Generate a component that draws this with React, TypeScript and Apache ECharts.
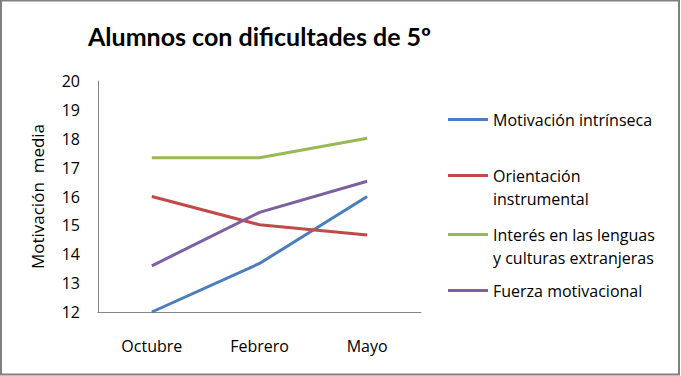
import React, { useEffect, useRef } from "react";
import * as echarts from "echarts";

const title = "Alumnos con dificultades de 5º";
const categories = ["Octubre", "Febrero", "Mayo"];
const yAxisName = "Motivación  media";
const seriesNames = [
  "Motivación intrínseca",
  "Orientación\ninstrumental",
  "Interés en las lenguas\ny culturas extranjeras",
  "Fuerza motivacional",
];
const motivacionIntrinseca = [12.0, 13.68, 16.0];
const orientacionInstrumental = [16.0, 15.02, 14.67];
const interesLenguas = [17.34, 17.34, 18.02];
const fuerzaMotivacional = [13.6, 15.45, 16.53];
const colors = ["#4a7ebb", "#be4b48", "#98b954", "#7d60a0"];
const legendCenters = [121, 177, 236, 292];

const FONT = "'Open Sans', Lato, sans-serif";
const TITLE_FONT = "Lato, 'Open Sans', sans-serif";
const LH = 23;

export default function App() {
  const ref = useRef<HTMLDivElement>(null);
  useEffect(() => {
    document.body.style.margin = "0";
    const chart = echarts.init(ref.current!, undefined, { renderer: "svg" });
    const values = [motivacionIntrinseca, orientacionInstrumental, interesLenguas, fuerzaMotivacional];
    const legends = seriesNames.map((name, i) => {
      const twoLines = name.includes("\n");
      return {
        show: true,
        left: 448,
        top: legendCenters[i] - LH / 2 - (twoLines ? LH : 0) - 1.5,
        orient: "vertical",
        padding: 0,
        icon: "rect",
        itemWidth: 40,
        itemHeight: 3,
        data: [name],
        formatter: (n: string) => (n.includes("\n") ? " \n" + n : n),
        textStyle: {
          fontFamily: FONT,
          fontSize: 16,
          color: "#000",
          lineHeight: LH,
        },
      };
    });
    chart.setOption({
      animation: false,
      title: {
        text: title,
        left: 88,
        top: 23,
        padding: 0,
        textStyle: { fontFamily: TITLE_FONT, fontSize: 25, fontWeight: "bold", color: "#000" },
      },
      graphic: [
        {
          type: "rect",
          shape: { x: 1, y: 0.5, width: 678, height: 374 },
          style: { fill: "none", stroke: "#808080", lineWidth: 2 },
        },
      ],
      legend: legends,
      grid: { left: 98, top: 81, width: 323, height: 231, containLabel: false },
      xAxis: {
        type: "category",
        data: categories,
        boundaryGap: true,
        axisLine: { lineStyle: { color: "#868686", width: 1 } },
        axisTick: { show: false },
        axisLabel: { fontFamily: FONT, fontSize: 16, color: "#000", margin: 26 },
      },
      yAxis: {
        type: "value",
        min: 12,
        max: 20,
        interval: 1,
        name: yAxisName,
        nameLocation: "middle",
        nameGap: 52,
        nameTextStyle: { fontFamily: FONT, fontSize: 17, color: "#000" },
        axisLine: { show: true, lineStyle: { color: "#868686", width: 1 } },
        axisTick: { show: false },
        splitLine: { show: false },
        axisLabel: { fontFamily: FONT, fontSize: 16, color: "#000", margin: 18 },
      },
      series: seriesNames.map((name, i) => ({
        name,
        type: "line",
        data: values[i],
        symbol: "none",
        lineStyle: { color: colors[i], width: 3 },
        itemStyle: { color: colors[i] },
      })),
    });
    return () => chart.dispose();
  }, []);
  return <div ref={ref} style={{ width: 681, height: 376 }} />;
}
